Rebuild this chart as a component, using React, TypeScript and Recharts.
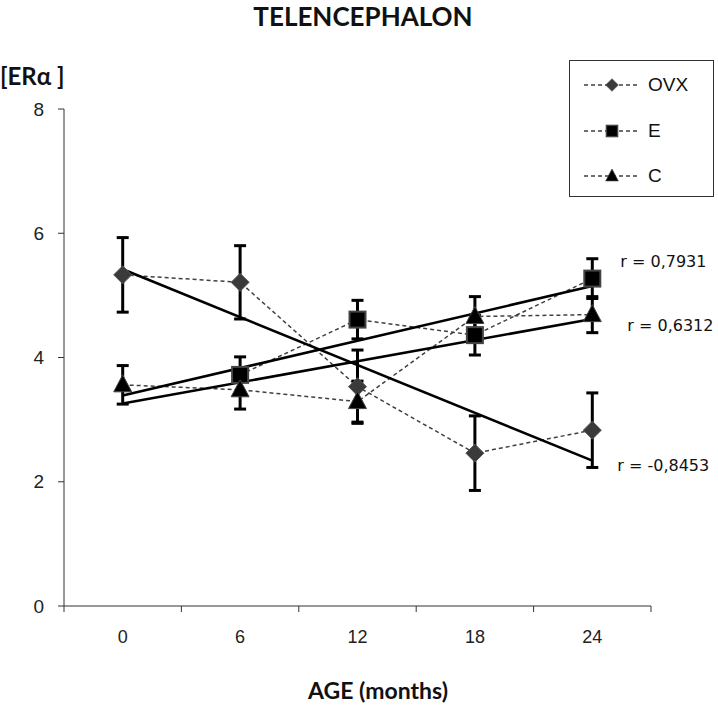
import { LineChart, Line, XAxis, YAxis, ErrorBar, LabelList, Legend } from "recharts";

const AGES = ["0", "6", "12", "18", "24"];
const OVX = [5.33, 5.21, 3.53, 2.46, 2.83];
const OVX_ERR = [0.6, 0.59, 0.59, 0.6, 0.6];
const E = [null, 3.72, 4.61, 4.36, 5.27];
const E_ERR = [null, 0.29, 0.31, 0.32, 0.32];
const C = [3.56, 3.48, 3.29, 4.66, 4.69];
const C_ERR = [0.31, 0.31, 0.33, 0.32, 0.29];
// trend line ends (0 and 24 months)
const OVX_FIT = [5.42, null, null, null, 2.34];
const E_FIT = [3.39, null, null, null, 5.15];
const C_FIT = [3.26, null, null, null, 4.62];
const R_LABELS = { ovx: "r = -0,8453", e: "r = 0,7931", c: "r = 0,6312" };
const SERIES = [
  { key: "ovx", name: "OVX" },
  { key: "e", name: "E" },
  { key: "c", name: "C" },
];

const data = AGES.map((age, i) => ({
  i,
  age,
  ovx: OVX[i],
  ovxErr: OVX_ERR[i],
  e: E[i],
  eErr: E_ERR[i],
  c: C[i],
  cErr: C_ERR[i],
  ovxFit: OVX_FIT[i],
  eFit: E_FIT[i],
  cFit: C_FIT[i],
}));

const SANS = "'Liberation Sans', Arial, sans-serif";
const WIDE = "'DejaVu Sans', sans-serif";
const BOLD = "Lato, 'Open Sans', sans-serif";
const DASH = "#404040";

function Marker({ kind, cx, cy }: { kind: string; cx: number; cy: number }) {
  if (cx == null || cy == null || Number.isNaN(cy)) return null;
  if (kind === "ovx") {
    const r = 9;
    return (
      <polygon
        points={`${cx},${cy - r} ${cx + r},${cy} ${cx},${cy + r} ${cx - r},${cy}`}
        fill="#3a3a3a"
        stroke="#555"
        strokeWidth={1}
      />
    );
  }
  if (kind === "e") {
    return <rect x={cx - 8} y={cy - 8} width={16} height={16} fill="#000" stroke="#444" strokeWidth={2} />;
  }
  return (
    <polygon
      points={`${cx},${cy - 10} ${cx + 9},${cy + 7} ${cx - 9},${cy + 7}`}
      fill="#000"
      stroke="#444"
      strokeWidth={1}
    />
  );
}

const dotFor = (kind: string) => (p: any) => <Marker key={`${kind}-${p.index}`} kind={kind} cx={p.cx} cy={p.cy} />;

const rLabel = (kind: string, dx: number, dy: number) => (p: any) => {
  if (p.index !== AGES.length - 1) return null;
  return (
    <text x={p.x + dx} y={p.y + dy} style={{ fontFamily: WIDE, fontSize: 16 }} fill="#111" dominantBaseline="central">
      {R_LABELS[kind as keyof typeof R_LABELS]}
    </text>
  );
};

function AgeTick({ x, y, payload }: any) {
  const v = payload.value as number;
  if (!Number.isInteger(v)) {
    return <line x1={x} x2={x} y1={y} y2={y + 6} stroke="#333" strokeWidth={1} />;
  }
  return (
    <text x={x} y={y + 31} textAnchor="middle" dominantBaseline="central" style={{ fontFamily: SANS, fontSize: 18 }} fill="#222">
      {AGES[v]}
    </text>
  );
}

function LegendBox() {
  return (
    <div
      style={{
        width: 145,
        height: 137,
        border: "1px solid #333",
        background: "#fff",
        boxSizing: "border-box",
        position: "relative",
      }}
    >
      {SERIES.map((s, k) => (
        <div key={s.key} style={{ position: "absolute", left: 12, top: 14 + k * 45.5, height: 20, display: "flex", alignItems: "center" }}>
          <svg width={60} height={20}>
            <line x1={2} x2={58} y1={10} y2={10} stroke={DASH} strokeWidth={1.5} strokeDasharray="4 3" />
            <g transform="translate(30,10) scale(0.7) translate(-30,-10)">
              <Marker kind={s.key} cx={30} cy={10} />
            </g>
          </svg>
          <span style={{ marginLeft: 6, fontFamily: SANS, fontSize: 19, color: "#111" }}>{s.name}</span>
        </div>
      ))}
    </div>
  );
}

export default function App() {
  return (
    <div style={{ position: "absolute", left: 0, top: 0, width: 718, height: 714, background: "#fff" }}>
      <div
        style={{
          position: "absolute",
          left: 0,
          width: 726,
          top: 0,
          textAlign: "center",
          fontFamily: BOLD,
          fontWeight: 700,
          fontSize: 26,
          color: "#111",
        }}
      >
        TELENCEPHALON
      </div>
      <div style={{ position: "absolute", left: 0, top: 61, fontFamily: BOLD, fontWeight: 700, fontSize: 24, color: "#111" }}>
        [ERα ]
      </div>
      <div
        style={{
          position: "absolute",
          left: 0,
          width: 756,
          top: 676,
          textAlign: "center",
          fontFamily: BOLD,
          fontWeight: 700,
          fontSize: 23,
          color: "#111",
        }}
      >
        AGE (months)
      </div>
      <LineChart width={718} height={714} data={data} margin={{ top: 109, right: 67, left: 0, bottom: 0 }}>
        <XAxis
          dataKey="i"
          type="number"
          domain={[-0.5, 4.5]}
          ticks={[-0.5, 0, 0.5, 1, 1.5, 2, 2.5, 3, 3.5, 4, 4.5]}
          interval={0}
          tickLine={false}
          tickSize={0}
          tickMargin={0}
          tick={<AgeTick />}
          height={108}
          stroke="#333"
        />
        <YAxis
          domain={[0, 8]}
          ticks={[0, 2, 4, 6, 8]}
          width={64}
          tickSize={6}
          tickMargin={14}
          stroke="#333"
          tick={{ fontFamily: SANS, fontSize: 19, fill: "#222" }}
        />
        <Legend
          layout="vertical"
          align="center"
          verticalAlign="middle"
          wrapperStyle={{ left: 569, top: 60, width: 145, height: 137 }}
          content={() => <LegendBox />}
        />
        <Line
          dataKey="ovx"
          name="OVX"
          stroke={DASH}
          strokeWidth={1.5}
          strokeDasharray="4 3"
          dot={dotFor("ovx")}
          activeDot={false}
          isAnimationActive={false}
        >
          <ErrorBar dataKey="ovxErr" direction="y" width={6} stroke="#000" strokeWidth={3} />
        </Line>
        <Line
          dataKey="e"
          name="E"
          stroke={DASH}
          strokeWidth={1.5}
          strokeDasharray="4 3"
          dot={dotFor("e")}
          activeDot={false}
          isAnimationActive={false}
        >
          <ErrorBar dataKey="eErr" direction="y" width={6} stroke="#000" strokeWidth={3} />
        </Line>
        <Line
          dataKey="c"
          name="C"
          stroke={DASH}
          strokeWidth={1.5}
          strokeDasharray="4 3"
          dot={dotFor("c")}
          activeDot={false}
          isAnimationActive={false}
        >
          <ErrorBar dataKey="cErr" direction="y" width={6} stroke="#000" strokeWidth={3} />
        </Line>
        <Line dataKey="ovxFit" stroke="#000" strokeWidth={2.6} dot={false} activeDot={false} connectNulls legendType="none" isAnimationActive={false}>
          <LabelList content={rLabel("ovx", 25, 5)} />
        </Line>
        <Line dataKey="eFit" stroke="#000" strokeWidth={2.6} dot={false} activeDot={false} connectNulls legendType="none" isAnimationActive={false}>
          <LabelList content={rLabel("e", 28, -25)} />
        </Line>
        <Line dataKey="cFit" stroke="#000" strokeWidth={2.6} dot={false} activeDot={false} connectNulls legendType="none" isAnimationActive={false}>
          <LabelList content={rLabel("c", 35, 7)} />
        </Line>
      </LineChart>
    </div>
  );
}
